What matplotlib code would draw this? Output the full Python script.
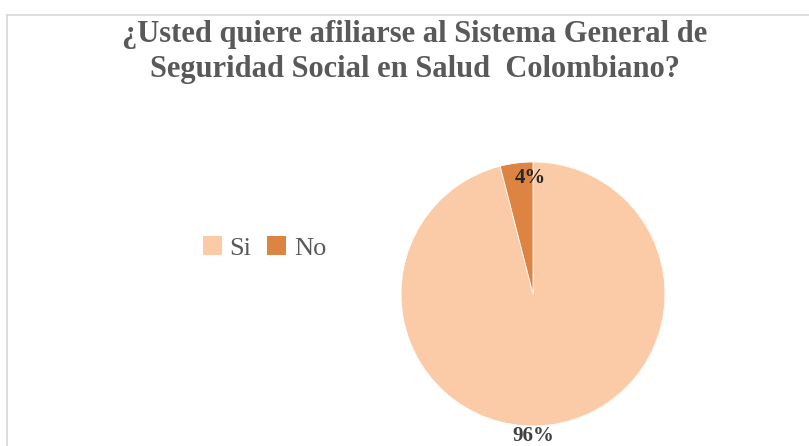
import numpy as np
import matplotlib
matplotlib.use("Agg")
import matplotlib.pyplot as plt
from matplotlib.patches import Patch

categorias = ["Si", "No"]
porcentajes = [96, 4]
colores = ["#FACBA6", "#DD8443"]

titulo = "¿Usted quiere afiliarse al Sistema General de\nSeguridad Social en Salud  Colombiano?"

plt.rcParams["font.family"] = ["Liberation Serif", "DejaVu Serif"]

fig = plt.figure(figsize=(8.09, 4.46), dpi=100)
fig.patch.set_facecolor("white")

# marco del grafico (solo borde superior e izquierdo visibles)
fig.add_artist(plt.Line2D([7 / 809, 1.0], [1 - 15 / 446, 1 - 15 / 446],
                          color="#D9D9D9", lw=1.2, transform=fig.transFigure))
fig.add_artist(plt.Line2D([7 / 809, 7 / 809], [0.0, 1 - 15 / 446],
                          color="#D9D9D9", lw=1.2, transform=fig.transFigure))

fig.text(415 / 809, 1 - 52 / 446, titulo, ha="center", va="center",
         fontsize=22, fontweight="bold", color="#595959", linespacing=1.3)

cx, cy, r = 533, 294, 132
ax = fig.add_axes([(cx - r) / 809, (446 - cy - r) / 446, 2 * r / 809, 2 * r / 446])
wedges, _ = ax.pie(porcentajes, colors=colores, startangle=90, counterclock=False,
                   radius=1.0, wedgeprops=dict(linewidth=0.6, edgecolor="white"))
ax.set_xlim(-1, 1)
ax.set_ylim(-1, 1)
ax.set_aspect("equal")
ax.axis("off")

# etiquetas de porcentaje
ax.text(-0.02, 0.88, f"{porcentajes[1]}%", ha="center", va="center",
        fontsize=15, fontweight="bold", color="#262626")
ax.text(0.0, -1.075, f"{porcentajes[0]}%", ha="center", va="center",
        fontsize=15, fontweight="bold", color="#404040", clip_on=False)

handles = [Patch(facecolor=c, edgecolor="none") for c in colores]
fig.legend(handles, categorias, loc="center left", bbox_to_anchor=(190 / 809, 1 - 248 / 446),
           ncol=2, frameon=False, fontsize=19, labelcolor="#595959",
           handlelength=0.7, handleheight=0.7, handletextpad=0.3, columnspacing=0.6,
           borderpad=0)

fig.savefig("out.png", dpi=100, facecolor="white")
